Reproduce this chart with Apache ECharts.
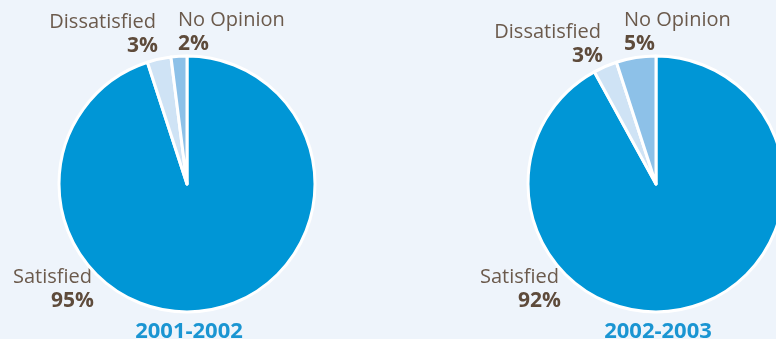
<!DOCTYPE html>
<html>
<head>
<meta charset="utf-8">
<script src="https://cdn.jsdelivr.net/npm/echarts@6/dist/echarts.min.js"></script>
<style>
  html, body { margin: 0; padding: 0; background: #eef4fb; }
  #chart { width: 776px; height: 339px; }
</style>
</head>
<body>
<div id="chart"></div>
<script>
// Survey response categories and the share for each school year
const categories = ['Satisfied', 'Dissatisfied', 'No Opinion'];
const years = ['2001-2002', '2002-2003'];
const values2001 = [95, 3, 2];
const values2002 = [92, 3, 5];

const sliceColors = ['#0096d6', '#cfe3f5', '#8dc1e8'];
const FONT = '"Open Sans", sans-serif';
const pieCenters = [[187, 184], [656, 184]];

// Where each category's caption sits around its pie (offsets from pie centre)
const captionSpots = [
  [ // 2001-2002
    { dx: -95, dy: 93, align: 'right' },
    { dx: -31, dy: -162, align: 'right' },
    { dx: -9, dy: -164, align: 'left' }
  ],
  [ // 2002-2003
    { dx: -97, dy: 93, align: 'right' },
    { dx: -55, dy: -152, align: 'right' },
    { dx: -32, dy: -164, align: 'left' }
  ]
];

function makePie(values, idx) {
  return {
    type: 'pie',
    center: pieCenters[idx],
    radius: 128,
    startAngle: 90,
    clockwise: true,
    animation: false,
    silent: true,
    itemStyle: { borderColor: '#ffffff', borderWidth: 3 },
    label: { show: false },
    labelLine: { show: false },
    data: categories.map((c, i) => ({
      name: c,
      value: values[i],
      itemStyle: { color: sliceColors[i] }
    }))
  };
}

// Category name plus bold percentage, stacked
function captions(values, idx) {
  const out = [];
  const c = pieCenters[idx];
  categories.forEach((name, i) => {
    const s = captionSpots[idx][i];
    out.push({
      type: 'text',
      x: c[0] + s.dx,
      y: c[1] + s.dy,
      silent: true,
      style: {
        text: name,
        align: s.align,
        verticalAlign: 'middle',
        fontFamily: FONT,
        fontSize: 20,
        fill: '#6b5a4c'
      }
    });
    out.push({
      type: 'text',
      x: c[0] + s.dx + (s.align === 'right' ? 2 : 0),
      y: c[1] + s.dy + 24,
      silent: true,
      style: {
        text: values[i] + '%',
        align: s.align,
        verticalAlign: 'middle',
        fontFamily: FONT,
        fontSize: 21,
        fontWeight: 'bold',
        fill: '#5e4b3b'
      }
    });
  });
  return out;
}

const chart = echarts.init(document.getElementById('chart'), null, { renderer: 'canvas' });
chart.setOption({
  backgroundColor: '#eef4fb',
  series: [makePie(values2001, 0), makePie(values2002, 1)],
  graphic: [
    ...captions(values2001, 0),
    ...captions(values2002, 1),
    ...years.map((y, i) => ({
      type: 'text',
      x: pieCenters[i][0] + 2,
      y: 332,
      silent: true,
      style: {
        text: y,
        align: 'center',
        verticalAlign: 'middle',
        fontFamily: FONT,
        fontSize: 22,
        fontWeight: 'bold',
        fill: '#1a95d2'
      }
    }))
  ]
});
</script>
</body>
</html>
